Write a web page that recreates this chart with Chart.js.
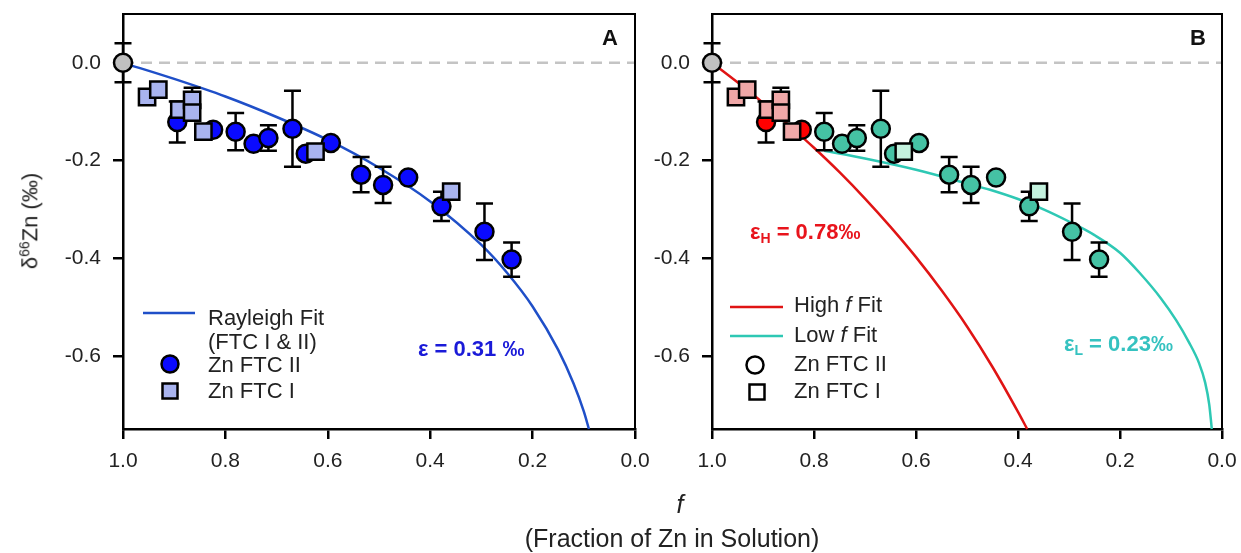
<!DOCTYPE html>
<html>
<head>
<meta charset="utf-8">
<title>Zn isotope fractionation</title>
<script src="https://cdn.jsdelivr.net/npm/chart.js@4.4.1/dist/chart.umd.min.js"></script>
<style>
  body { margin: 0; background: #fff; font-family: "Liberation Sans", Arial, sans-serif; }
  #wrap { position: relative; width: 1241px; height: 553px; overflow: hidden; }
  #wrap canvas { position: absolute; left: 0; top: 0; }
  .ytitle { position: absolute; left: 30px; top: 221px; transform: translate(-50%, -50%) rotate(-90deg);
            font-size: 22px; white-space: nowrap; color: #222; }
  .ytitle sup { font-size: 14px; }
  .xtitle { position: absolute; transform: translate(-50%, -50%); font-size: 25px;
            white-space: nowrap; color: #222; }
</style>
</head>
<body>
<div id="wrap">
  <canvas id="chartA" width="1241" height="553"></canvas>
  <canvas id="chartB" width="1241" height="553"></canvas>
  <div class="ytitle">&delta;<sup>66</sup>Zn (&permil;)</div>
  <div class="xtitle" style="left:680px;top:504px;font-style:italic;">f</div>
  <div class="xtitle" style="left:672px;top:538px;">(Fraction of Zn in Solution)</div>
</div>
<script>
// tick labels
const xTicks = [1.0, 0.8, 0.6, 0.4, 0.2, 0.0];
const yTicks = [0.0, -0.2, -0.4, -0.6];

// starting solution
const startF = [1.0];
const startD = [0.0];
const startErr = [0.04];

// Zn FTC II (circles)
const ftc2F = [0.894, 0.824, 0.780, 0.745, 0.716, 0.669, 0.643, 0.594, 0.535, 0.492, 0.443, 0.378, 0.294, 0.241];
const ftc2D = [-0.121, -0.137, -0.141, -0.166, -0.154, -0.135, -0.186, -0.164, -0.229, -0.250, -0.235, -0.294, -0.346, -0.403];
const ftc2Err = [0.042, 0, 0.038, 0, 0.026, 0.078, 0, 0, 0.036, 0.037, 0, 0.030, 0.058, 0.035];

// Zn FTC I (squares)
const ftc1F = [0.953, 0.931, 0.890, 0.865, 0.865, 0.843, 0.624, 0.359];
const ftc1D = [-0.070, -0.055, -0.096, -0.076, -0.102, -0.141, -0.182, -0.264];
const ftc1Err = [0, 0, 0, 0.025, 0, 0, 0, 0];

// fit curves
const rayleighF = [1.0, 0.9, 0.8, 0.7, 0.6, 0.5, 0.4, 0.3, 0.25, 0.2, 0.15, 0.12, 0.1, 0.09];
const rayleighD = [0, -0.033, -0.069, -0.111, -0.158, -0.215, -0.284, -0.373, -0.43, -0.499, -0.588, -0.657, -0.714, -0.75];
const highFitF = [1.0, 0.95, 0.9, 0.85, 0.8, 0.75, 0.7, 0.65, 0.6, 0.55, 0.5, 0.45, 0.4, 0.382];
const highFitD = [0, -0.04, -0.082, -0.127, -0.174, -0.224, -0.278, -0.336, -0.398, -0.466, -0.54, -0.623, -0.715, -0.75];
const lowFitF = [0.78, 0.70, 0.60, 0.50, 0.455, 0.40, 0.35, 0.30, 0.25, 0.20, 0.16, 0.12, 0.09, 0.065, 0.045, 0.033, 0.025, 0.02];
const lowFitD = [-0.180, -0.196, -0.219, -0.247, -0.260, -0.279, -0.300, -0.325, -0.353, -0.389, -0.432, -0.482, -0.527, -0.572, -0.615, -0.655, -0.700, -0.75];

const zeroF = [1.0, 0.0];
const zeroD = [0.0, 0.0];

const highLowSplit = 0.8; // panel B colour split

const pts = (fs, ds) => fs.map((f, i) => ({ x: f, y: ds[i] }));

const FONT = '"Liberation Sans", Arial, sans-serif';

function makeScales(yWidth) {
  const grid = { drawOnChartArea: false, drawTicks: true, tickLength: 10, color: '#000', lineWidth: 2.5 };
  const border = { display: true, color: '#000', width: 2.5 };
  return {
    x: {
      type: 'linear', min: 0, max: 1, reverse: true,
      afterBuildTicks: (s) => { s.ticks = xTicks.map((v) => ({ value: v })); },
      afterFit: (s) => { s.height = 124; s.paddingLeft = 0; s.paddingRight = 0; },
      ticks: { callback: (v) => v.toFixed(1), color: '#222', font: { family: FONT, size: 21 }, padding: 10, maxRotation: 0, autoSkip: false },
      grid: grid, border: border
    },
    y: {
      type: 'linear', min: -0.75, max: 0.1,
      afterBuildTicks: (s) => { s.ticks = yTicks.map((v) => ({ value: v })); },
      afterFit: (s) => { s.width = yWidth; s.paddingTop = 0; s.paddingBottom = 0; },
      ticks: { callback: (v) => v.toFixed(1), color: '#222', font: { family: FONT, size: 21 }, padding: 12, autoSkip: false },
      grid: grid, border: border
    }
  };
}

// error bars, drawn just before the dataset that owns them
const errorBars = {
  id: 'errorBars',
  beforeDatasetDraw(chart, args) {
    const ds = chart.data.datasets[args.index];
    if (!ds.errors) return;
    const { ctx, scales: { x, y } } = chart;
    ctx.save();
    ctx.strokeStyle = '#000';
    ctx.lineWidth = 2.5;
    ds.data.forEach((p, i) => {
      const e = ds.errors[i];
      if (!e) return;
      const px = x.getPixelForValue(p.x);
      const top = y.getPixelForValue(p.y + e);
      const bot = y.getPixelForValue(p.y - e);
      ctx.beginPath();
      ctx.moveTo(px, top); ctx.lineTo(px, bot);
      ctx.moveTo(px - 8.5, top); ctx.lineTo(px + 8.5, top);
      ctx.moveTo(px - 8.5, bot); ctx.lineTo(px + 8.5, bot);
      ctx.stroke();
    });
    ctx.restore();
  }
};

// box around plot area
const frame = {
  id: 'frame',
  afterDraw(chart) {
    const { ctx, chartArea: a } = chart;
    ctx.save();
    ctx.strokeStyle = '#000';
    ctx.lineWidth = 2;
    ctx.beginPath();
    ctx.moveTo(a.left, a.top); ctx.lineTo(a.right, a.top); ctx.lineTo(a.right, a.bottom);
    ctx.stroke();
    ctx.restore();
  }
};

// text in pieces: [{t, font, dy, color}]
function rich(ctx, x, y, parts, color) {
  ctx.textBaseline = 'middle';
  ctx.textAlign = 'left';
  parts.forEach((p) => {
    ctx.font = p.font;
    ctx.fillStyle = p.color || color;
    ctx.fillText(p.t, x, y + (p.dy || 0));
    x += ctx.measureText(p.t).width;
  });
}

function legendLine(ctx, x1, x2, y, color) {
  ctx.strokeStyle = color; ctx.lineWidth = 2.5;
  ctx.beginPath(); ctx.moveTo(x1, y); ctx.lineTo(x2, y); ctx.stroke();
}
function legendCircle(ctx, x, y, fill) {
  ctx.fillStyle = fill; ctx.strokeStyle = '#000'; ctx.lineWidth = 2.5;
  ctx.beginPath(); ctx.arc(x, y, 8.5, 0, Math.PI * 2); ctx.fill(); ctx.stroke();
}
function legendSquare(ctx, x, y, fill) {
  ctx.fillStyle = fill; ctx.strokeStyle = '#000'; ctx.lineWidth = 2.5;
  ctx.beginPath(); ctx.rect(x - 7.5, y - 7.5, 15, 15); ctx.fill(); ctx.stroke();
}

const reg = '22px ' + FONT;
const ital = 'italic 22px ' + FONT;
const bold = 'bold 22px ' + FONT;
const boldSub = 'bold 14px ' + FONT;

const notesA = {
  id: 'notesA',
  afterDraw(chart) {
    const ctx = chart.ctx;
    ctx.save();
    legendLine(ctx, 143, 195, 313, '#1f4fc8');
    rich(ctx, 208, 319, [{ t: 'Rayleigh Fit', font: reg }], '#222');
    rich(ctx, 208, 343, [{ t: '(FTC I & II)', font: reg }], '#222');
    legendCircle(ctx, 170, 364, '#0a0aff');
    rich(ctx, 208, 366, [{ t: 'Zn FTC II', font: reg }], '#222');
    legendSquare(ctx, 170, 391, '#a9b4ef');
    rich(ctx, 208, 392, [{ t: 'Zn FTC I', font: reg }], '#222');
    rich(ctx, 418, 350, [{ t: '\u03b5 = 0.31 \u2030', font: bold }], '#1a1ad8');
    ctx.font = 'bold 22px ' + FONT; ctx.fillStyle = '#111'; ctx.textAlign = 'center'; ctx.textBaseline = 'middle';
    ctx.fillText('A', 610, 39);
    ctx.restore();
  }
};

const notesB = {
  id: 'notesB',
  afterDraw(chart) {
    const ctx = chart.ctx;
    ctx.save();
    legendLine(ctx, 730, 783, 307, '#e01414');
    rich(ctx, 794, 306, [{ t: 'High ', font: reg }, { t: 'f', font: ital }, { t: ' Fit', font: reg }], '#222');
    legendLine(ctx, 730, 783, 336, '#2ec8b4');
    rich(ctx, 794, 336, [{ t: 'Low ', font: reg }, { t: 'f', font: ital }, { t: ' Fit', font: reg }], '#222');
    legendCircle(ctx, 755, 365, '#fff');
    rich(ctx, 794, 365, [{ t: 'Zn FTC II', font: reg }], '#222');
    legendSquare(ctx, 757, 392, '#fff');
    rich(ctx, 794, 392, [{ t: 'Zn FTC I', font: reg }], '#222');
    rich(ctx, 750, 233, [{ t: '\u03b5', font: bold }, { t: 'H', font: boldSub, dy: 6 }, { t: ' = 0.78\u2030', font: bold }], '#e8141c');
    rich(ctx, 1064, 345, [{ t: '\u03b5', font: bold }, { t: 'L', font: boldSub, dy: 6 }, { t: ' = 0.23\u2030', font: bold }], '#35c2c0');
    ctx.font = 'bold 22px ' + FONT; ctx.fillStyle = '#111'; ctx.textAlign = 'center'; ctx.textBaseline = 'middle';
    ctx.fillText('B', 1198, 39);
    ctx.restore();
  }
};

function pointSet(label, fs, ds, errs, style, fill, radius) {
  return {
    label: label, data: pts(fs, ds), errors: errs,
    pointStyle: style, pointRadius: radius, pointHoverRadius: radius,
    pointBorderWidth: 2.5, pointBorderColor: '#000',
    pointBackgroundColor: fill, backgroundColor: fill, borderColor: '#000',
    showLine: false, clip: false
  };
}
function lineSet(label, fs, ds, color, dash) {
  return {
    label: label, data: pts(fs, ds), showLine: true, pointRadius: 0, pointHoverRadius: 0,
    borderColor: color, borderWidth: 2.5, borderDash: dash || [],
    cubicInterpolationMode: 'monotone', fill: false, clip: false
  };
}

const common = (yWidth, rightPad) => ({
  responsive: false,
  animation: false,
  events: [],
  layout: { padding: { left: 0, top: 14, right: rightPad, bottom: 0 } },
  scales: makeScales(yWidth),
  plugins: { legend: { display: false }, tooltip: { enabled: false } }
});

// Panel A
new Chart(document.getElementById('chartA').getContext('2d'), {
  type: 'scatter',
  data: {
    datasets: [
      pointSet('Start', startF, startD, startErr, 'circle', '#c0c0c0', 9),
      pointSet('Zn FTC I', ftc1F, ftc1D, ftc1Err, 'rect', '#a9b4ef', 11.5),
      pointSet('Zn FTC II', ftc2F, ftc2D, ftc2Err, 'circle', '#0a0aff', 9),
      lineSet('Rayleigh Fit', rayleighF, rayleighD, '#1f4fc8'),
      lineSet('zero', zeroF, zeroD, '#c4c4c4', [11, 7])
    ]
  },
  options: common(123, 1241 - 635),
  plugins: [errorBars, frame, notesA]
});

// Panel B
const ftc2Colors = ftc2F.map((f) => (f > highLowSplit ? '#ff0000' : '#45c2a4'));
const ftc1Colors = ftc1F.map((f) => (f > highLowSplit ? '#f0a8a8' : '#c4f2de'));

new Chart(document.getElementById('chartB').getContext('2d'), {
  type: 'scatter',
  data: {
    datasets: [
      pointSet('Start', startF, startD, startErr, 'circle', '#c0c0c0', 9),
      pointSet('Zn FTC I', ftc1F, ftc1D, ftc1Err, 'rect', ftc1Colors, 11.5),
      pointSet('Zn FTC II', ftc2F, ftc2D, ftc2Err, 'circle', ftc2Colors, 9),
      lineSet('High f Fit', highFitF, highFitD, '#e01414'),
      lineSet('Low f Fit', lowFitF, lowFitD, '#2ec8b4'),
      lineSet('zero', zeroF, zeroD, '#c4c4c4', [11, 7])
    ]
  },
  options: common(712, 1241 - 1222),
  plugins: [errorBars, frame, notesB]
});
</script>
</body>
</html>
